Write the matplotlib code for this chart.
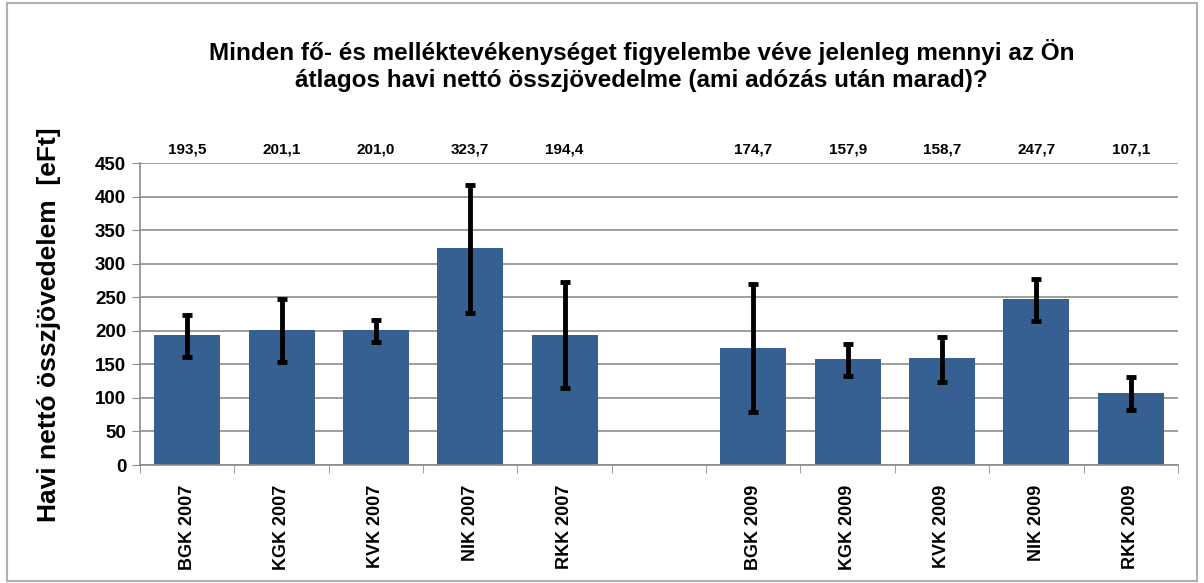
import matplotlib.pyplot as plt
import matplotlib.patches as mpatches
import numpy as np

plt.rcParams['font.family'] = ['Liberation Sans', 'DejaVu Sans']

labels = ["BGK 2007", "KGK 2007", "KVK 2007", "NIK 2007", "RKK 2007",
          "BGK 2009", "KGK 2009", "KVK 2009", "NIK 2009", "RKK 2009"]
means = [193.5, 201.1, 201.0, 323.7, 194.4, 174.7, 157.9, 158.7, 247.7, 107.1]
err_low = [161, 153, 183, 227, 115, 79, 133, 124, 215, 82]
err_high = [223, 247, 216, 417, 272, 269, 180, 191, 277, 131]

# one empty slot between the two years
x = np.array([0, 1, 2, 3, 4, 6, 7, 8, 9, 10])
means_a = np.array(means)
yerr = [means_a - np.array(err_low), np.array(err_high) - means_a]

fig = plt.figure(figsize=(12.04, 5.83), dpi=100)
fig.patches.append(mpatches.Rectangle((0.006, 0.004), 0.988, 0.99, transform=fig.transFigure,
                                      fill=False, edgecolor='#b0b0b0', linewidth=1.5))
ax = fig.add_axes([0.1163, 0.2024, 0.862, 0.518])

ax.bar(x, means, width=0.7, color='#376092', zorder=2)
ax.errorbar(x, means, yerr=yerr, fmt='none', ecolor='black', elinewidth=3.5,
            capsize=3.5, capthick=3.5, zorder=3)

ax.set_ylim(0, 450)
ax.set_xlim(-0.5, 10.5)
ax.set_yticks(np.arange(0, 451, 50))
ax.yaxis.grid(True, color='#8c8c8c', linewidth=1.2, zorder=0)
ax.set_axisbelow(True)
for s in ['top', 'right']:
    ax.spines[s].set_visible(False)
ax.spines['left'].set_color('#8c8c8c')
ax.spines['bottom'].set_color('#8c8c8c')
ax.spines['left'].set_linewidth(1.2)
ax.spines['bottom'].set_linewidth(1.2)

ax.set_xticks(x)
ax.set_xticklabels(labels, rotation=90, fontsize=13, fontweight='bold')
ax.set_xticks(np.arange(-0.5, 10.6, 1), minor=True)
ax.tick_params(axis='x', which='major', length=0, pad=14)
ax.tick_params(axis='x', which='minor', length=6, color='#8c8c8c', direction='out')
ax.tick_params(axis='y', length=6, color='#8c8c8c', labelsize=13.5, pad=4)
for t in ax.get_yticklabels():
    t.set_fontweight('bold')

for xi, m in zip(x, means):
    ax.text(xi, 470, f"{m:.1f}".replace('.', ','), ha='center', va='center',
            fontsize=11, fontweight='bold', clip_on=False)

ax.set_ylabel("Havi nettó összjövedelem  [eFt]", fontsize=19, fontweight='bold')
ax.yaxis.set_label_coords(-0.076, 0.4636)

fig.text(0.533, 0.888, "Minden fő- és melléktevékenységet figyelembe véve jelenleg mennyi az Ön\n"
         "átlagos havi nettó összjövedelme (ami adózás után marad)?",
         ha='center', va='center', fontsize=17.5, fontweight='bold', linespacing=1.25)

fig.savefig("out.png", dpi=100)
